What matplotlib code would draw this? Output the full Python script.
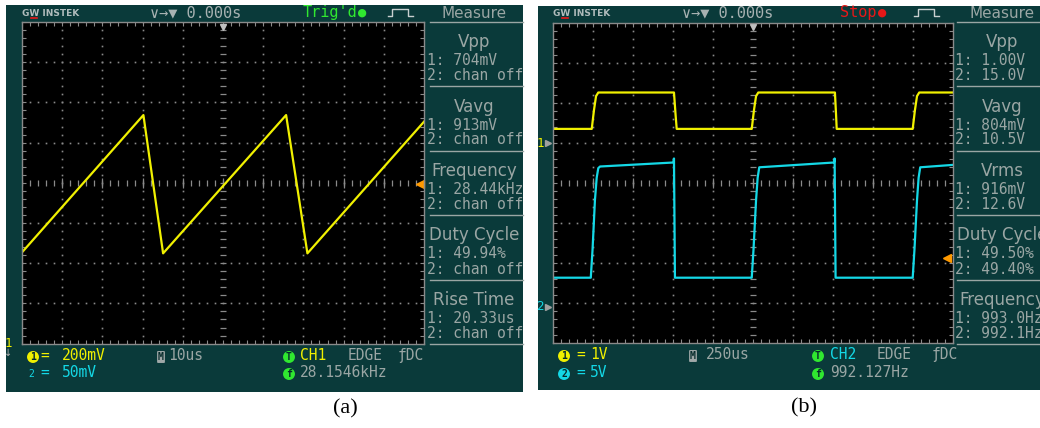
import matplotlib.pyplot as plt
import matplotlib.transforms as mtrans
from matplotlib.lines import Line2D
from matplotlib.patches import Rectangle
import numpy as np

# (a) sawtooth capture: CH1 200mV/div, 10us/div
a_time_us = [-50, -19.8, -14.9, 15.7, 21.0, 50]
a_ch1_mv = [574, 1257, 569, 1257, 569, 1224]
a_ch1_scale = 200      # mV/div
a_ch1_ground = -4.6    # div from centre (below screen)
a_trig_mv = 913
a_titles = ["Vpp", "Vavg", "Frequency", "Duty Cycle", "Rise Time"]
a_line1 = ["1: 704mV", "1: 913mV", "1: 28.44kHz", "1: 49.94%", "1: 20.33us"]
a_line2 = ["2: chan off"] * 5

# (b) square wave capture: CH1 1V/div, CH2 5V/div, 250us/div
b_ch1_time_us = [-1250, -1006, -992, -979, -965, -492, -482, -475,
                 -6, 8, 21, 35, 514, 521, 525, 1000, 1014, 1027, 1041, 1250]
b_ch1_v = [0.36, 0.36, 0.83, 1.18, 1.27, 1.27, 0.71, 0.36,
           0.36, 0.83, 1.18, 1.27, 1.27, 0.71, 0.36, 0.36, 0.83, 1.18, 1.27, 1.27]
b_ch2_time_us = [-1250, -1012, -1001, -986, -975, -965, -954, -495, -492, -486,
                 -6, 5, 21, 31, 41, 508, 512, 518,
                 1000, 1011, 1027, 1037, 1047, 1250]
b_ch2_v = [3.6, 3.6, 7.1, 13.3, 16.1, 17.3, 17.5, 18.0, 18.5, 3.6,
           3.6, 7.1, 13.3, 16.1, 17.4, 18.0, 18.5, 3.6,
           3.6, 7.1, 13.3, 16.1, 17.4, 17.7]
b_ch1_scale = 1
b_ch1_ground = 0.98
b_ch2_scale = 5
b_ch2_ground = -3.1
b_trig_v = 6.1
b_titles = ["Vpp", "Vavg", "Vrms", "Duty Cycle", "Frequency"]
b_line1 = ["1: 1.00V", "1: 804mV", "1: 916mV", "1: 49.50%", "1: 993.0Hz"]
b_line2 = ["2: 15.0V", "2: 10.5V", "2: 12.6V", "2: 49.40%", "2: 992.1Hz"]

TEAL = '#0a3a3a'
GRID = '#8a8a8a'
TXT = '#9aa6a4'
YEL = '#f0f000'
CYAN = '#14d8e6'
GREEN = '#30e830'
RED = '#e81818'
ORANGE = '#ff9a00'
MONO = ['DejaVu Sans Mono', 'DejaVu Sans']

W, H = 1040, 428
fig = plt.figure(figsize=(W / 100, H / 100), dpi=100)
fig.patch.set_facecolor('white')


def fx(x):
    return x / W


def fy(y):
    return 1 - y / H


def txt(x, y, s, **kw):
    kw.setdefault('family', MONO)
    kw.setdefault('va', 'baseline')
    return fig.text(fx(x), fy(y), s, **kw)


def hline(x0, x1, y, color=TXT, lw=1.0):
    fig.add_artist(Line2D([fx(x0), fx(x1)], [fy(y), fy(y)], color=color, lw=lw))


def icon(cx, y, s, fc, tc='#062a2a', box='circle,pad=0.1'):
    txt(cx, y, s, ha='center', fontsize=7, fontweight='bold', color=tc,
        bbox=dict(boxstyle=box, fc=fc, ec='none'))


def scope(bx0, by0, bx1, by1, gx0, gy0, gx1, gy1, tdiv):
    bg = Rectangle((fx(bx0), fy(by1)), fx(bx1) - fx(bx0), fy(by0) - fy(by1),
                   transform=fig.transFigure, fc=TEAL, ec='none', zorder=-5)
    fig.add_artist(bg)
    ax = fig.add_axes([fx(gx0), fy(gy1), fx(gx1) - fx(gx0), fy(gy0) - fy(gy1)])
    ax.set_facecolor('black')
    ax.set_xlim(-5 * tdiv, 5 * tdiv)
    ax.set_ylim(-4, 4)
    xs = np.arange(-5, 5.001, 0.2) * tdiv
    ys = np.arange(-4, 4.001, 0.2)
    for k in range(-4, 5):
        if k != 0:
            ax.plot(np.full_like(ys, k * tdiv), ys, ls='none', marker='s', ms=1.2,
                    mec='none', mfc=GRID)
    for k in range(-3, 4):
        if k != 0:
            ax.plot(xs, np.full_like(xs, k), ls='none', marker='s', ms=1.2,
                    mec='none', mfc=GRID)
    ax.plot(xs, np.zeros_like(xs), ls='none', marker='|', ms=4, mew=0.9, color=GRID)
    ax.plot(np.arange(-4, 5) * tdiv, np.zeros(9), ls='none', marker='|', ms=7,
            mew=0.9, color=GRID)
    ax.plot(np.zeros_like(ys), ys, ls='none', marker='_', ms=4, mew=0.9, color=GRID)
    ax.set_xticks(xs)
    ax.set_yticks(ys)
    ax.tick_params(direction='in', length=3, width=0.8, color=GRID, top=True,
                   right=True, labelbottom=False, labelleft=False)
    for sp in ax.spines.values():
        sp.set_color(GRID)
        sp.set_linewidth(1)
    ax.plot([0.5], [0.985], transform=ax.transAxes, marker='v', ms=5, color='#c0c0c0',
            clip_on=False)
    return ax, bg


def measure(x_left, x_center, sep_x0, sep_x1, titles, l1, l2, clip=None):
    arts = [txt(x_center, 18, "Measure", ha='center', family='DejaVu Sans',
                fontsize=11, color=TXT)]
    hline(sep_x0, sep_x1, 22)
    for i in range(5):
        off = 64.5 * i
        arts.append(txt(x_center, 47 + off, titles[i], ha='center',
                        family='DejaVu Sans', fontsize=12, color=TXT))
        arts.append(txt(x_left, 65 + off, l1[i], fontsize=10.5, color=TXT))
        arts.append(txt(x_left, 80 + off, l2[i], fontsize=10.5, color=TXT))
        hline(sep_x0, sep_x1, 86 + off)
    if clip is not None:
        for a in arts:
            a.set_clip_path(clip)


def header(x_brand, x_time, x_state, state, state_color, x_pulse):
    txt(x_brand, 16, "GW INSTEK", family='DejaVu Sans', fontsize=6.5,
        fontweight='bold', color='#b0bcbc')
    hline(x_brand + 9, x_brand + 15, 17.5, color=RED, lw=1.2)
    txt(x_time, 17, "∨→▼ 0.000s", fontsize=11, color='#a8b2b2')
    txt(x_state, 17, state, fontsize=11, color=state_color)
    txt(x_state + 8.6 * len(state) + 8, 17, "●", ha='center', fontsize=10,
        color=state_color)
    px = [x_pulse, x_pulse + 4, x_pulse + 4, x_pulse + 20, x_pulse + 20, x_pulse + 25]
    py = [16, 16, 8.5, 8.5, 16, 16]
    fig.add_artist(Line2D([fx(v) for v in px], [fy(v) for v in py],
                          color='#c8d0d0', lw=1))


# ---------------- panel (a) ----------------
ax_a, bg_a = scope(6, 5, 523, 392, 22, 22, 424, 343.6, 10)
ax_a.plot(a_time_us, np.array(a_ch1_mv) / a_ch1_scale + a_ch1_ground, color=YEL, lw=1.6)
ax_a.plot([0.99], [a_trig_mv / a_ch1_scale + a_ch1_ground], marker='<', ms=6,
          color=ORANGE, transform=mtrans.blended_transform_factory(ax_a.transAxes,
                                                                   ax_a.transData),
          clip_on=False)
header(22, 150, 303, "Trig'd", GREEN, 388)
measure(427, 474, 430, 523, a_titles, a_line1, a_line2, clip=bg_a)
txt(8, 347, "1", ha='center', fontsize=9, color=YEL)
txt(8, 356, "↓", ha='center', family='DejaVu Sans', fontsize=7, color='#b0b0b0')
icon(33, 360, "1", YEL)
txt(40, 360, "=", fontsize=10.5, color=YEL)
txt(62, 360, "200mV", fontsize=10.5, color=YEL)
txt(31.5, 377, "2", ha='center', fontsize=7, color=CYAN)
txt(40, 377, "=", fontsize=10.5, color=CYAN)
txt(62, 377, "50mV", fontsize=10.5, color=CYAN)
icon(161, 360, "M", '#a0a8a8', box='round,pad=0.1')
txt(168, 360, "10us", fontsize=10.5, color=TXT)
icon(289, 360, "T", GREEN)
txt(300, 360, "CH1", fontsize=10.5, color=YEL)
txt(348, 360, "EDGE", fontsize=10.5, color=TXT)
txt(398, 360, "ƒDC", fontsize=10.5, color=TXT)
icon(289, 377, "f", GREEN)
txt(300, 377, "28.1546kHz", fontsize=10.5, color=TXT)

# ---------------- panel (b) ----------------
ax_b, bg_b = scope(538, 6, 1040, 390, 552.7, 22.5, 952.7, 342.5, 250)
ax_b.plot(b_ch1_time_us, np.array(b_ch1_v) / b_ch1_scale + b_ch1_ground, color=YEL, lw=1.6)
ax_b.plot(b_ch2_time_us, np.array(b_ch2_v) / b_ch2_scale + b_ch2_ground, color=CYAN, lw=1.6)
blend_b = mtrans.blended_transform_factory(ax_b.transAxes, ax_b.transData)
ax_b.plot([0.985], [b_trig_v / b_ch2_scale + b_ch2_ground], marker='<', ms=6,
          color=ORANGE, transform=blend_b, clip_on=False)
ax_b.text(-0.032, b_ch1_ground, "1", transform=blend_b, ha='center', va='center',
          family=MONO, fontsize=9, color=YEL)
ax_b.plot([-0.012], [b_ch1_ground], marker='>', ms=4, color='#a0a0a0',
          transform=blend_b, clip_on=False)
ax_b.text(-0.032, b_ch2_ground, "2", transform=blend_b, ha='center', va='center',
          family=MONO, fontsize=9, color=CYAN)
ax_b.plot([-0.012], [b_ch2_ground], marker='>', ms=4, color='#a0a0a0',
          transform=blend_b, clip_on=False)
header(553, 682, 840, "Stop", RED, 914)
measure(955, 1002, 957, 1040, b_titles, b_line1, b_line2)
icon(564, 359, "1", YEL)
txt(576, 359, "=", fontsize=10.5, color=YEL)
txt(590, 359, "1V", fontsize=10.5, color=YEL)
icon(564, 377, "2", CYAN)
txt(576, 377, "=", fontsize=10.5, color=CYAN)
txt(590, 377, "5V", fontsize=10.5, color=CYAN)
icon(693, 359, "M", '#a0a8a8', box='round,pad=0.1')
txt(706, 359, "250us", fontsize=10.5, color=TXT)
icon(818, 359, "T", GREEN)
txt(830, 359, "CH2", fontsize=10.5, color=CYAN)
txt(877, 359, "EDGE", fontsize=10.5, color=TXT)
txt(932, 359, "ƒDC", fontsize=10.5, color=TXT)
icon(818, 377, "f", GREEN)
txt(830, 377, "992.127Hz", fontsize=10.5, color=TXT)

# captions
txt(345, 409, "(a)", ha='center', va='center', family='Liberation Serif', fontsize=16,
    color='black')
txt(804, 408, "(b)", ha='center', va='center', family='Liberation Serif', fontsize=16,
    color='black')

fig.savefig('out.png', dpi=100)
